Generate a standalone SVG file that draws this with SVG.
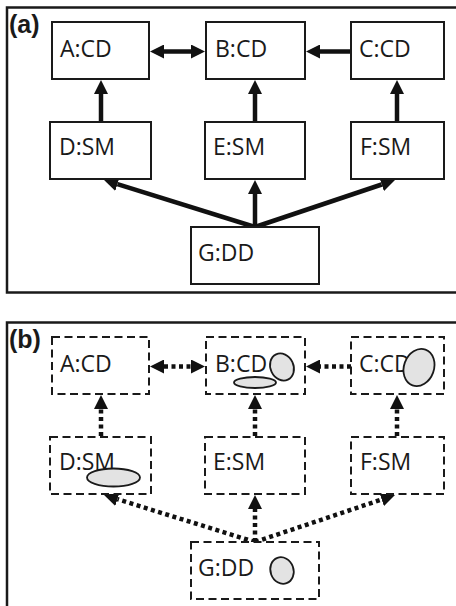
<svg xmlns="http://www.w3.org/2000/svg" width="456" height="606" viewBox="0 0 456 606">
<style>
.frame{fill:none;stroke:#1a1a1a;stroke-width:2.5}
.box{fill:#fff;stroke:#1a1a1a;stroke-width:2}
.dbox{fill:#fff;stroke:#1a1a1a;stroke-width:2;stroke-dasharray:8 4.5}
.lbl{font-family:"Open Sans","Noto Sans",sans-serif;font-size:23px;fill:#1a1a1a}
.tag{font-family:"Liberation Sans",Arial,sans-serif;font-size:25px;font-weight:bold;fill:#1a1a1a}
.sol{stroke:#111;stroke-width:4.5;fill:none;marker-end:url(#ah)}
.dot{stroke:#111;stroke-width:4.5;fill:none;stroke-dasharray:4 3.5;marker-end:url(#ah)}
.blob{fill:#e3e3e3;stroke:#1a1a1a;stroke-width:1.8}
</style>
<defs>
<marker id="ah" viewBox="0 0 14 14" markerWidth="14" markerHeight="14" markerUnits="userSpaceOnUse" refX="0" refY="7" orient="auto-start-reverse">
<path d="M0,0 L14,7 L0,14 Z" fill="#111"/>
</marker>
</defs>
<rect width="456" height="606" fill="#fff"/>
<g id="panel-a">
<rect class="frame" x="7" y="7.5" width="470" height="285"/>
<text class="tag" x="9" y="33">(a)</text>
</g>
<g id="panel-b">
<rect class="frame" x="7" y="322.5" width="470" height="300"/>
<text class="tag" x="9" y="348">(b)</text>
</g>
<g id="connectors-a">
<line class="sol" x1="164" y1="51.5" x2="191" y2="51.5" marker-start="url(#ah)"/>
<line class="sol" x1="351" y1="51.5" x2="320" y2="51.5"/>
<line class="sol" x1="101" y1="121" x2="101" y2="94"/>
<line class="sol" x1="255" y1="121" x2="255" y2="94"/>
<line class="sol" x1="397" y1="121" x2="397" y2="94"/>
<line class="sol" x1="255" y1="227" x2="255" y2="194"/>
<line class="sol" x1="255" y1="227" x2="117.4" y2="184.2"/>
<line class="sol" x1="255" y1="227" x2="381.7" y2="184.5"/>
</g>
<g id="connectors-b">
<line class="dot" x1="164" y1="366.5" x2="191" y2="366.5" marker-start="url(#ah)"/>
<line class="dot" x1="351" y1="366.5" x2="320" y2="366.5"/>
<line class="dot" x1="101" y1="436" x2="101" y2="409"/>
<line class="dot" x1="255" y1="436" x2="255" y2="409"/>
<line class="dot" x1="397" y1="436" x2="397" y2="409"/>
<line class="dot" x1="255" y1="542" x2="255" y2="509"/>
<line class="dot" x1="255" y1="542" x2="117.4" y2="499.2"/>
<line class="dot" x1="255" y1="542" x2="381.7" y2="499.5"/>
</g>
<g id="a-A"><rect class="box" x="52" y="22" width="97" height="57"/><text class="lbl" x="60" y="57">A:CD</text></g>
<g id="a-B"><rect class="box" x="206" y="22" width="99" height="57"/><text class="lbl" x="215" y="57">B:CD</text></g>
<g id="a-C"><rect class="box" x="351" y="22" width="93" height="57"/><text class="lbl" x="359" y="57">C:CD</text></g>
<g id="a-D"><rect class="box" x="50" y="122" width="101" height="57"/><text class="lbl" x="59" y="155">D:SM</text></g>
<g id="a-E"><rect class="box" x="205" y="122" width="100" height="57"/><text class="lbl" x="213" y="155">E:SM</text></g>
<g id="a-F"><rect class="box" x="351" y="122" width="93" height="57"/><text class="lbl" x="360" y="155">F:SM</text></g>
<g id="a-G"><rect class="box" x="191" y="227" width="128" height="57"/><text class="lbl" x="198" y="261">G:DD</text></g>
<g id="b-A"><rect class="dbox" x="52" y="337" width="97" height="57"/><text class="lbl" x="60" y="372">A:CD</text></g>
<g id="b-B"><rect class="dbox" x="206" y="337" width="99" height="57"/><text class="lbl" x="215" y="372">B:CD</text><ellipse class="blob" cx="282" cy="367" rx="11.5" ry="14" transform="rotate(-25 282 367)"/><ellipse class="blob" cx="255" cy="382.5" rx="21" ry="5.5"/></g>
<g id="b-C"><rect class="dbox" x="351" y="337" width="93" height="57"/><text class="lbl" x="359" y="372">C:CD</text><ellipse class="blob" cx="419" cy="367.5" rx="15" ry="19" transform="rotate(20 419 367.5)"/></g>
<g id="b-D"><rect class="dbox" x="50" y="437" width="101" height="57"/><text class="lbl" x="59" y="470">D:SM</text><ellipse class="blob" cx="113.5" cy="477.5" rx="26.5" ry="9"/></g>
<g id="b-E"><rect class="dbox" x="205" y="437" width="100" height="57"/><text class="lbl" x="213" y="470">E:SM</text></g>
<g id="b-F"><rect class="dbox" x="351" y="437" width="93" height="57"/><text class="lbl" x="360" y="470">F:SM</text></g>
<g id="b-G"><rect class="dbox" x="191" y="542" width="128" height="57"/><text class="lbl" x="198" y="576">G:DD</text><ellipse class="blob" cx="282" cy="570.5" rx="11.5" ry="13.5" transform="rotate(-20 282 570.5)"/></g>
</svg>
